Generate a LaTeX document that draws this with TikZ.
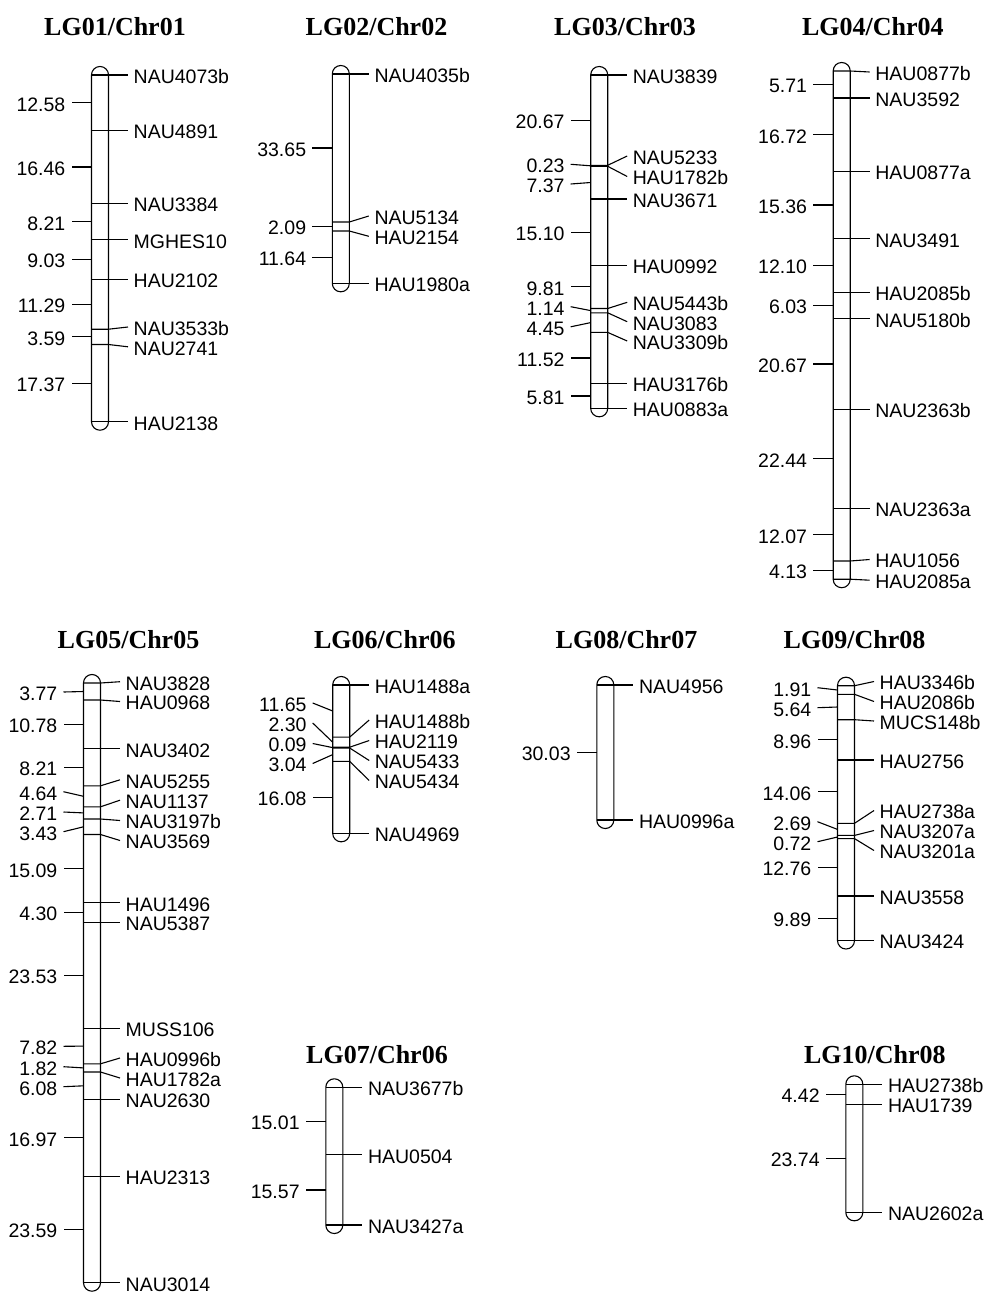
\documentclass[tikz,border=0pt]{standalone}
\usepackage{fontspec}
\setmainfont{Liberation Sans}
\newfontfamily\ttlserif{Liberation Serif}
\newcommand\labfont{\fontsize{19.5}{20}\selectfont}
\newcommand\ttlfont{\ttlserif\bfseries\fontsize{26}{28}\selectfont}
% marker: id, cx, marker y, label y, text
\newcommand\Mrk[5]{%
  \coordinate (#1a) at (#2-8.5,#3);
  \coordinate (#1b) at (#2+8.5,#3);
  \coordinate (#1c) at (#2+28,#4);
  \node[mlabel] (#1) at ([xshift=5.5pt]#1c) {#5};
  \draw[tickline] (#1a) -- (#1b) -- (#1c);
}
% interval: id, cx, chrom y, label y, text
\newcommand\Ivl[5]{%
  \coordinate (#1a) at (#2-8.5,#3);
  \coordinate (#1c) at (#2-28.5,#4);
  \node[dlabel] (#1) at ([xshift=-6pt]#1c) {#5};
  \draw[tickline] (#1a) -- (#1c);
}
% chromosome body: id, cx, top, bottom
\newcommand\Chr[4]{%
  \draw[chrom] (#2-8.5,#3-8.5) rectangle (#2+8.5,#4+8.5);
  \coordinate (#1top) at (#2,#3);
}
\tikzset{
  chrom/.style={line width=1.1pt, rounded corners=8.4pt},
  tickline/.style={line width=1.1pt},
  mlabel/.style={anchor=base west, inner sep=0pt, yshift=-8.4pt, font=\labfont},
  dlabel/.style={anchor=base east, inner sep=0pt, yshift=-8.4pt, font=\labfont},
  ttl/.style={anchor=base, inner sep=0pt, font=\ttlfont},
}
\begin{document}
\begin{tikzpicture}[x=1pt,y=-1pt]
\useasboundingbox (0,0) rectangle (990,1293);
% titles
\node[ttl] (t1) at (115,35) {LG01/Chr01};
\node[ttl] (t2) at (376.5,35) {LG02/Chr02};
\node[ttl] (t3) at (625,35) {LG03/Chr03};
\node[ttl] (t4) at (872.8,35) {LG04/Chr04};
\node[ttl] (t5) at (128.5,648.3) {LG05/Chr05};
\node[ttl] (t6) at (384.8,648.3) {LG06/Chr06};
\node[ttl] (t8) at (626.5,648.3) {LG08/Chr07};
\node[ttl] (t9) at (854.5,648.3) {LG09/Chr08};
\node[ttl] (t7) at (377,1063.3) {LG07/Chr06};
\node[ttl] (t10) at (874.9,1063.3) {LG10/Chr08};

% LG01
\Chr{c1}{100}{75}{421.7}
\foreach \m/\l/\t [count=\i] in {75/75/NAU4073b,130.5/130.5/NAU4891,203.5/203.5/NAU3384,239.7/239.7/MGHES10,279.2/279.2/HAU2102,329.2/327/NAU3533b,344.5/346.8/NAU2741,421.7/421.7/HAU2138}
  {\Mrk{c1m\i}{100}{\m}{\l}{\t}}
\foreach \m/\l/\t [count=\i] in {102.8/102.8/12.58,167/167/16.46,221.6/221.6/8.21,259.5/259.5/9.03,304.2/304.2/11.29,336.9/336.9/3.59,383.1/383.1/17.37}
  {\Ivl{c1d\i}{100}{\m}{\l}{\t}}

% LG02
\Chr{c2}{340.8}{74}{283.3}
\foreach \m/\l/\t [count=\i] in {74/74/NAU4035b,222/216/NAU5134,231/236.3/HAU2154,283.3/283.3/HAU1980a}
  {\Mrk{c2m\i}{340.8}{\m}{\l}{\t}}
\foreach \m/\l/\t [count=\i] in {148/148/33.65,226.5/226.5/2.09,257.3/257.3/11.64}
  {\Ivl{c2d\i}{340.8}{\m}{\l}{\t}}

% LG03
\Chr{c3}{599.2}{75}{408.3}
\foreach \m/\l/\t [count=\i] in {75/75/NAU3839,165.3/156/NAU5233,166.3/176.5/HAU1782b,199/199/NAU3671,265.3/265.3/HAU0992,308.5/302.3/NAU5443b,312.8/321.7/NAU3083,332.4/341/NAU3309b,383.5/383.5/HAU3176b,408.3/408.3/HAU0883a}
  {\Mrk{c3m\i}{599.2}{\m}{\l}{\t}}
\foreach \m/\l/\t [count=\i] in {120.2/120.2/20.67,165.8/164.3/0.23,182.5/184/7.37,232.2/232.2/15.10,286.9/286.9/9.81,310.6/306.7/1.14,322.6/326.8/4.45,358/358/11.52,396/396/5.81}
  {\Ivl{c3d\i}{599.2}{\m}{\l}{\t}}

% LG04
\Chr{c4}{841.7}{71}{579.2}
\foreach \m/\l/\t [count=\i] in {71/72/HAU0877b,98/98/NAU3592,171.3/171.3/HAU0877a,238.8/238.8/NAU3491,292.3/292.3/HAU2085b,318.8/318.8/NAU5180b,409.2/409.2/NAU2363b,508.2/508.2/NAU2363a,561/559.5/HAU1056,579.2/580.2/HAU2085a}
  {\Mrk{c4m\i}{841.7}{\m}{\l}{\t}}
\foreach \m/\l/\t [count=\i] in {84.5/84.5/5.71,134.6/134.6/16.72,205/205/15.36,265.5/265.5/12.10,305.5/305.5/6.03,364/364/20.67,458.7/458.7/22.44,534.6/534.6/12.07,570.1/570.1/4.13}
  {\Ivl{c4d\i}{841.7}{\m}{\l}{\t}}

% LG05
\Chr{c5}{92}{683}{1282.7}
\foreach \m/\l/\t [count=\i] in {683/681.7/NAU3828,700/701.5/HAU0968,748.7/748.7/NAU3402,785.8/779.8/NAU5255,806.8/800.2/NAU1137,819/820.5/NAU3197b,834.5/840.5/NAU3569,902.7/902.7/HAU1496,922.1/922.1/NAU5387,1028.4/1028.4/MUSS106,1063.8/1058/HAU0996b,1072/1078/HAU1782a,1099.5/1099.5/NAU2630,1176.1/1176.1/HAU2313,1282.7/1282.7/NAU3014}
  {\Mrk{c5m\i}{92}{\m}{\l}{\t}}
\foreach \m/\l/\t [count=\i] in {691.5/692/3.77,724.4/724.4/10.78,767.3/767.3/8.21,796.3/791.7/4.64,812.9/812/2.71,826.8/831.7/3.43,868.6/868.6/15.09,912.4/912.4/4.30,975.3/975.3/23.53,1046.1/1046.3/7.82,1067.9/1066.7/1.82,1085.8/1086.7/6.08,1137.8/1137.8/16.97,1229.4/1229.4/23.59}
  {\Ivl{c5d\i}{92}{\m}{\l}{\t}}

% LG06
\Chr{c6}{341.2}{685}{833.3}
\foreach \m/\l/\t [count=\i] in {685/685/HAU1488a,737.1/720/HAU1488b,747.2/740.5/HAU2119,748/760.5/NAU5433,761.4/780.5/NAU5434,833.3/833.3/NAU4969}
  {\Mrk{c6m\i}{341.2}{\m}{\l}{\t}}
\foreach \m/\l/\t [count=\i] in {711/703/11.65,742.2/723/2.30,747.6/743.5/0.09,754.6/763.5/3.04,797.4/797.4/16.08}
  {\Ivl{c6d\i}{341.2}{\m}{\l}{\t}}

% LG07
\Chr{c7}{334.3}{1087.3}{1225}
\foreach \m/\l/\t [count=\i] in {1087.3/1087.3/NAU3677b,1154.9/1154.9/HAU0504,1225/1225/NAU3427a}
  {\Mrk{c7m\i}{334.3}{\m}{\l}{\t}}
\foreach \m/\l/\t [count=\i] in {1121.1/1121.1/15.01,1190/1190/15.57}
  {\Ivl{c7d\i}{334.3}{\m}{\l}{\t}}

% LG08
\Chr{c8}{605.3}{685}{820}
\foreach \m/\l/\t [count=\i] in {685/685/NAU4956,820/820/HAU0996a}
  {\Mrk{c8m\i}{605.3}{\m}{\l}{\t}}
\foreach \m/\l/\t [count=\i] in {752.5/752.5/30.03}
  {\Ivl{c8d\i}{605.3}{\m}{\l}{\t}}

% LG09
\Chr{c9}{846}{685.7}{940.5}
\foreach \m/\l/\t [count=\i] in {685.7/681.5/HAU3346b,694.3/701.5/HAU2086b,719.7/721/MUCS148b,760/760/HAU2756,823.3/810.5/HAU2738a,835.4/830.5/NAU3207a,838.6/850.5/NAU3201a,896/896/NAU3558,940.5/940.5/NAU3424}
  {\Mrk{c9m\i}{846}{\m}{\l}{\t}}
\foreach \m/\l/\t [count=\i] in {690/687.7/1.91,707/707.7/5.64,739.8/739.8/8.96,791.7/791.7/14.06,829.4/821.7/2.69,837/841.7/0.72,867.3/867.3/12.76,918.3/918.3/9.89}
  {\Ivl{c9d\i}{846}{\m}{\l}{\t}}

% LG10
\Chr{c10}{854.3}{1084.3}{1212.3}
\foreach \m/\l/\t [count=\i] in {1084.3/1084.3/HAU2738b,1104.4/1104.4/HAU1739,1212.3/1212.3/NAU2602a}
  {\Mrk{c10m\i}{854.3}{\m}{\l}{\t}}
\foreach \m/\l/\t [count=\i] in {1094.3/1094.3/4.42,1158.3/1158.3/23.74}
  {\Ivl{c10d\i}{854.3}{\m}{\l}{\t}}
\end{tikzpicture}
\end{document}
